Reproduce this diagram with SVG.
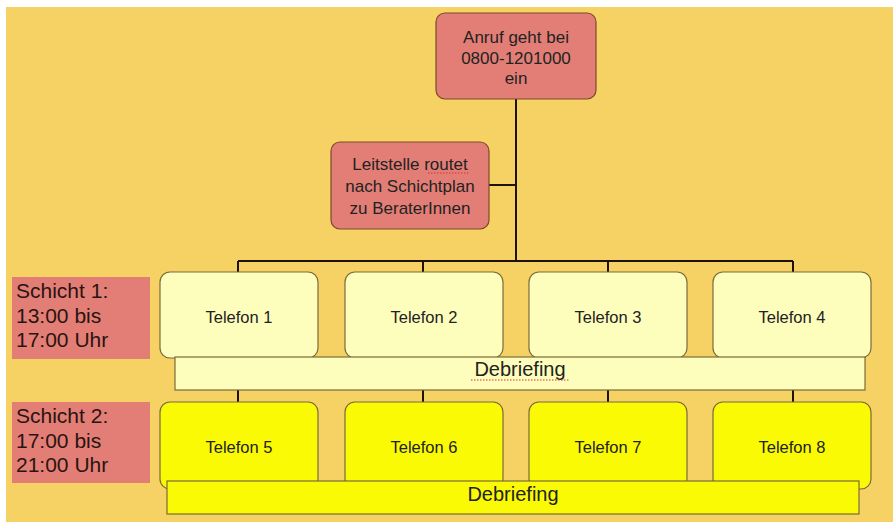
<svg xmlns="http://www.w3.org/2000/svg" width="893" height="522" viewBox="0 0 893 522">
<style>
text{font-family:"Liberation Sans",Arial,sans-serif;fill:#222;}
.pink{fill:#E27E76;stroke:#7A4A2A;stroke-width:1.2;}
.lt{fill:#FEFEBC;stroke:#7A6A3A;stroke-width:1.2;}
.yl{fill:#FAFA05;stroke:#7A6A3A;stroke-width:1.2;}
.conn{stroke:#1E1208;stroke-width:2;fill:none;}
.c{text-anchor:middle;}
.t17{font-size:17px;}
.t15{font-size:16.5px;}
.sh{font-size:21px;fill:#2A1410;}
.spell{stroke:#E03030;stroke-width:1;stroke-dasharray:1.5 1.5;fill:none;}
</style>
<rect x="0" y="0" width="893" height="522" fill="#FFFFFF"/>
<rect x="6" y="7" width="887" height="515" fill="#F6D163"/>
<g id="connectors">
<path class="conn" d="M516 99 V261 M489 185 H516 M238 261 H793 M238 261 V272 M423 261 V272 M608 261 V272 M793 261 V272"/>
<path class="conn" d="M238 390 V402 M423 390 V402 M608 390 V402 M793 390 V402"/>
</g>
<g id="node-anruf">
<rect class="pink" x="436" y="13" width="160" height="86" rx="9"/>
<text class="c t17" x="516" y="43">Anruf geht bei</text>
<text class="c t17" x="516" y="63.5">0800-1201000</text>
<text class="c t17" x="516" y="84">ein</text>
</g>
<g id="node-leitstelle">
<rect class="pink" x="331" y="142" width="158" height="87" rx="9"/>
<text class="c t17" x="410" y="170">Leitstelle routet</text>
<text class="c t17" x="410" y="192">nach Schichtplan</text>
<text class="c t17" x="410" y="214">zu BeraterInnen</text>
<path class="spell" d="M428 173 H470"/>
</g>
<g id="schicht1">
<rect x="12" y="277" width="138" height="82" fill="#E27E76"/>
<text class="sh" x="16" y="298">Schicht 1:</text>
<text class="sh" x="16" y="323">13:00 bis</text>
<text class="sh" x="16" y="347">17:00 Uhr</text>
</g>
<g id="telefon1"><rect class="lt" x="160" y="272" width="158" height="86" rx="10"/><text class="c t15" x="239" y="323">Telefon 1</text></g>
<g id="telefon2"><rect class="lt" x="345" y="272" width="158" height="86" rx="10"/><text class="c t15" x="424" y="323">Telefon 2</text></g>
<g id="telefon3"><rect class="lt" x="529" y="272" width="158" height="86" rx="10"/><text class="c t15" x="608" y="323">Telefon 3</text></g>
<g id="telefon4"><rect class="lt" x="713" y="272" width="158" height="86" rx="10"/><text class="c t15" x="792" y="323">Telefon 4</text></g>
<g id="debriefing1">
<rect class="lt" x="175" y="357" width="690" height="33"/>
<text class="c" x="520" y="376" font-size="20">Debriefing</text>
<path class="spell" d="M471 380 H569"/>
</g>
<g id="schicht2">
<rect x="12" y="402" width="138" height="81" fill="#E27E76"/>
<text class="sh" x="16" y="423">Schicht 2:</text>
<text class="sh" x="16" y="448">17:00 bis</text>
<text class="sh" x="16" y="472">21:00 Uhr</text>
</g>
<g id="telefon5"><rect class="yl" x="160" y="402" width="158" height="87" rx="10"/><text class="c t15" x="239" y="453">Telefon 5</text></g>
<g id="telefon6"><rect class="yl" x="345" y="402" width="158" height="87" rx="10"/><text class="c t15" x="424" y="453">Telefon 6</text></g>
<g id="telefon7"><rect class="yl" x="529" y="402" width="158" height="87" rx="10"/><text class="c t15" x="608" y="453">Telefon 7</text></g>
<g id="telefon8"><rect class="yl" x="713" y="402" width="158" height="87" rx="10"/><text class="c t15" x="792" y="453">Telefon 8</text></g>
<g id="debriefing2">
<rect class="yl" x="167" y="481" width="692" height="33"/>
<text class="c" x="513" y="501" font-size="20">Debriefing</text>
</g>
</svg>
